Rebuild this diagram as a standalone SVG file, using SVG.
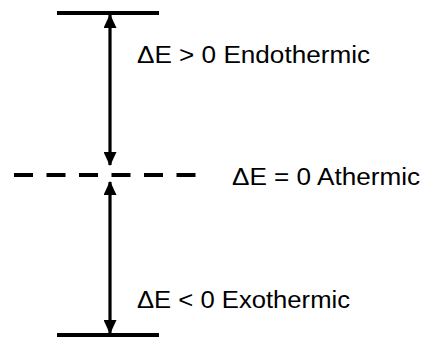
<svg xmlns="http://www.w3.org/2000/svg" width="422" height="340" viewBox="0 0 422 340">
<defs>
<style>
.lvl{stroke:#000;stroke-width:4;fill:none}
.dash{stroke:#000;stroke-width:4;stroke-dasharray:19 13.5;fill:none}
.arr{stroke:#000;stroke-width:3.2;fill:none}
.lbl{font-family:"Liberation Sans",Arial,sans-serif;font-size:23px;fill:#000}
</style>
<marker id="ah" viewBox="0 0 14 13" refX="13" refY="6.5" markerWidth="14" markerHeight="13" markerUnits="userSpaceOnUse" orient="auto-start-reverse">
<path d="M0,0 L14,6.5 L0,13 Z" fill="#000"/>
</marker>
</defs>
<rect width="422" height="340" fill="#fff"/>
<g id="top-level">
<line class="lvl" x1="57" y1="13" x2="159" y2="13"/>
</g>
<g id="athermic-level">
<line class="dash" x1="14" y1="175" x2="196" y2="175"/>
</g>
<g id="bottom-level">
<line class="lvl" x1="57" y1="335" x2="159" y2="335"/>
</g>
<g id="connectors">
<line class="arr" x1="110" y1="15" x2="110" y2="165" marker-start="url(#ah)" marker-end="url(#ah)"/>
<line class="arr" x1="110" y1="182" x2="110" y2="333" marker-start="url(#ah)" marker-end="url(#ah)"/>
</g>
<g id="labels">
<text class="lbl" x="137" y="63" textLength="233" lengthAdjust="spacingAndGlyphs">ΔE &gt; 0 Endothermic</text>
<text class="lbl" x="232" y="185" textLength="188" lengthAdjust="spacingAndGlyphs">ΔE = 0 Athermic</text>
<text class="lbl" x="137" y="308" textLength="213" lengthAdjust="spacingAndGlyphs">ΔE &lt; 0 Exothermic</text>
</g>
</svg>
